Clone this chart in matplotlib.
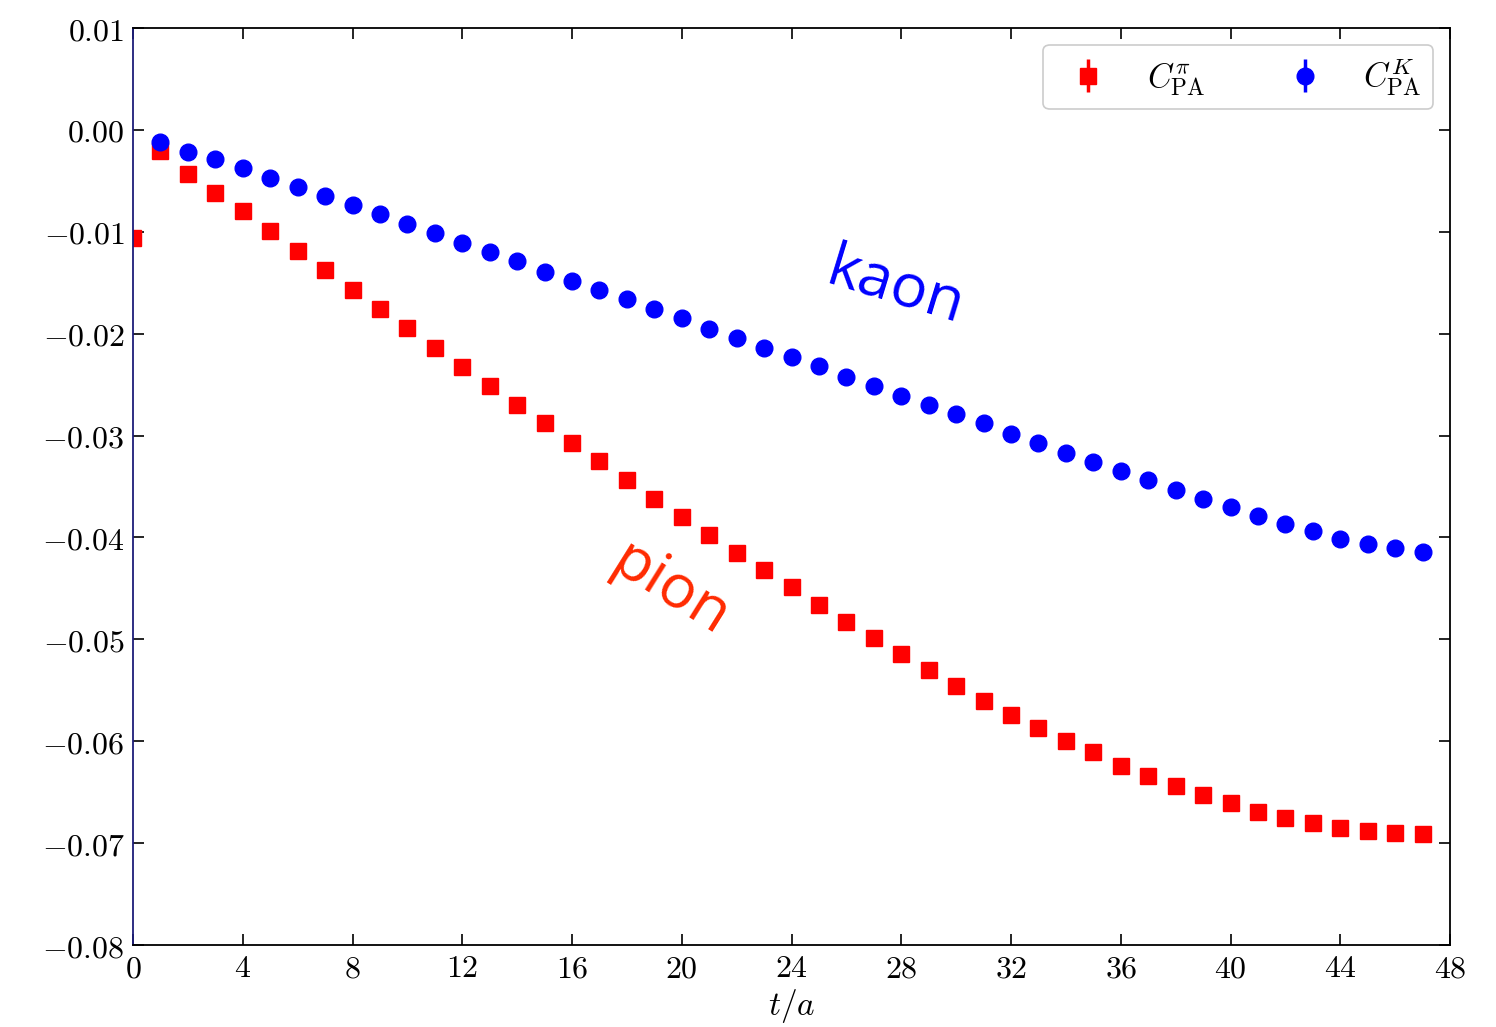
import numpy as np
import matplotlib
matplotlib.use("Agg")
import matplotlib.pyplot as plt

plt.rcParams["mathtext.fontset"] = "cm"
plt.rcParams["font.family"] = ["DejaVu Serif"]

# Euclidean time slices
t_pion = np.arange(0, 48)
t_kaon = np.arange(1, 48)

# C_PA correlator, pion channel
c_pion = [-0.0106, -0.0021, -0.0043, -0.0062, -0.0080, -0.0099, -0.0119, -0.0137,
          -0.0157, -0.0176, -0.0194, -0.0214, -0.0233, -0.0251, -0.0270, -0.0288,
          -0.0307, -0.0325, -0.0344, -0.0362, -0.0380, -0.0398, -0.0415, -0.0432,
          -0.0449, -0.0466, -0.0483, -0.0499, -0.0514, -0.0530, -0.0546, -0.0560,
          -0.0574, -0.0587, -0.0600, -0.0611, -0.0624, -0.0634, -0.0644, -0.0653,
          -0.0661, -0.0669, -0.0675, -0.0680, -0.0685, -0.0688, -0.0690, -0.0691]

# C_PA correlator, kaon channel
c_kaon = [-0.0012, -0.0022, -0.0029, -0.0037, -0.0047, -0.0056, -0.0065,
          -0.0074, -0.0083, -0.0092, -0.0101, -0.0111, -0.0120, -0.0129, -0.0139,
          -0.0148, -0.0157, -0.0166, -0.0176, -0.0185, -0.0195, -0.0204, -0.0214,
          -0.0223, -0.0232, -0.0242, -0.0251, -0.0261, -0.0270, -0.0279, -0.0288,
          -0.0298, -0.0307, -0.0317, -0.0326, -0.0335, -0.0344, -0.0353, -0.0362,
          -0.0370, -0.0379, -0.0387, -0.0394, -0.0401, -0.0406, -0.0410, -0.0414]

err_pion = np.zeros(len(c_pion))
err_kaon = np.zeros(len(c_kaon))

x_ticks = list(range(0, 49, 4))
y_ticks = [0.01, 0.00, -0.01, -0.02, -0.03, -0.04, -0.05, -0.06, -0.07, -0.08]

fig = plt.figure(figsize=(14.96, 10.27), dpi=100)
ax = fig.add_axes([0.0889, 0.0798, 0.8804, 0.8929])

ax.errorbar(t_pion, c_pion, yerr=err_pion, fmt="s", color="#ff0000",
            markersize=12, elinewidth=2.5, capsize=0, linestyle="none",
            label=r"$C^{\pi}_{\rm PA}$")
ax.errorbar(t_kaon, c_kaon, yerr=err_kaon, fmt="o", color="#0000ff",
            markersize=12, elinewidth=2.5, capsize=0, linestyle="none",
            label=r"$C^{K}_{\rm PA}$")

ax.set_xlim(0, 48)
ax.set_ylim(-0.08, 0.01)
ax.set_xticks(x_ticks)
ax.set_xticklabels([rf"${v}$" for v in x_ticks])
ax.set_yticks(y_ticks)
ax.set_yticklabels([rf"${v:.2f}$" for v in y_ticks])
ax.tick_params(direction="in", top=True, right=True, length=8, width=1.2,
               labelsize=23, pad=6)
for s in ax.spines.values():
    s.set_linewidth(1.3)
ax.spines["left"].set_color("#1c1c7a")

ax.set_xlabel(r"$t/a$", fontsize=24, labelpad=2)

leg = ax.legend(loc="upper right", ncol=2, fontsize=24, handlelength=2.0,
                columnspacing=2.0, handletextpad=0.75, borderpad=0.35,
                borderaxespad=0.5, framealpha=1.0, fancybox=True)
leg.get_frame().set_edgecolor("#cccccc")
leg.get_frame().set_linewidth(1.2)

ax.text(27.8, -0.0155, "kaon", color="#0000ff", fontsize=44, rotation=-17,
        family="Open Sans", ha="center", va="center")
ax.text(19.6, -0.0452, "pion", color="#ff2a00", fontsize=44, rotation=-32,
        family="Open Sans", ha="center", va="center")

fig.savefig("out.png", dpi=100)
